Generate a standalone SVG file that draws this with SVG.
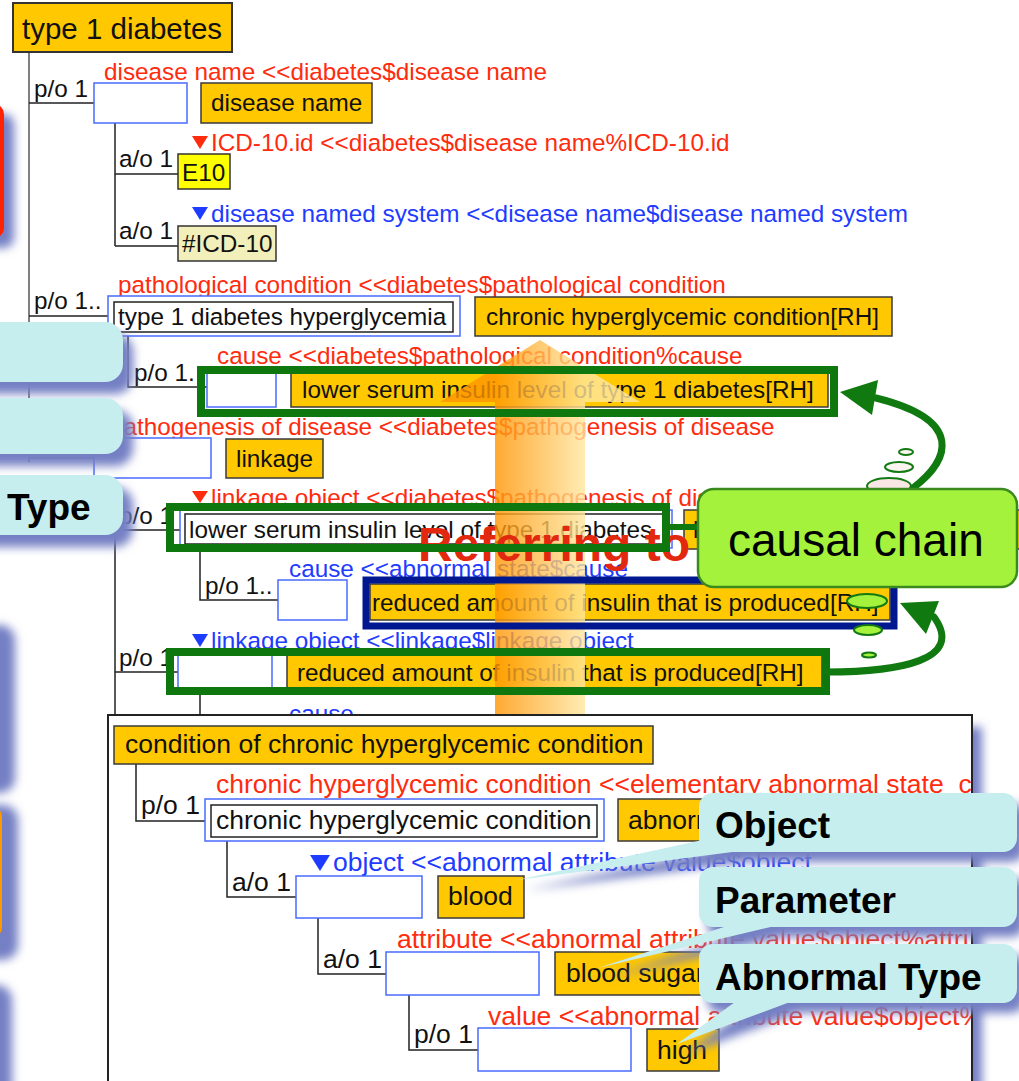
<svg xmlns="http://www.w3.org/2000/svg" width="1019" height="1081" viewBox="0 0 1019 1081">
  <style>
    .t{font-family:"Liberation Sans",Arial,sans-serif;font-size:24.3px;fill:#111}
    .s{font-size:26.5px}
    .red{fill:#FF2B0E}
    .blue{fill:#1E3CFF}
    .ob{fill:#FFC800;stroke:#3a3a3a;stroke-width:1.5}
    .bb{fill:#fff;stroke:#4A6BFF;stroke-width:1.5}
    .ib{fill:#fff;stroke:#222;stroke-width:1.5}
    .ln{stroke:#222;stroke-width:1.5;fill:none}
    .hl{fill:none;stroke:#0E780E;stroke-width:8}
    .cy{fill:#C6EEEE}
    .sh{fill:#7480C4;filter:url(#blur)}
    .big{font-family:"Liberation Sans",Arial,sans-serif;font-weight:bold;font-size:37px;fill:#000}
    .bub{stroke:#137A13;stroke-width:2}
    .garr{fill:none;stroke:#107A10;stroke-width:7;stroke-linecap:round}
  </style>
  <defs>
    <filter id="blur" x="-40%" y="-40%" width="180%" height="180%">
      <feGaussianBlur stdDeviation="5"/>
    </filter>
    <linearGradient id="upGrad" gradientUnits="userSpaceOnUse" x1="495" y1="0" x2="585" y2="0">
      <stop offset="0" stop-color="#FF9400"/>
      <stop offset="1" stop-color="#FFE7A0"/>
    </linearGradient>
    <clipPath id="insetClip">
      <rect x="109" y="716" width="862" height="370"/>
    </clipPath>
  </defs>

  <rect width="1019" height="1081" fill="#fff"/>

  <!-- shapes running off the left edge -->
  <g id="left-edge">
    <rect class="sh" x="-50" y="114" width="64" height="134" rx="10"/>
    <rect x="-60" y="104" width="64" height="134" rx="10" fill="#FF2200"/>
    <rect class="sh" x="-60" y="625" width="75" height="168" rx="15"/>
    <rect class="sh" x="-60" y="805" width="78" height="155" rx="15"/>
    <rect x="-60" y="808" width="62" height="128" rx="8" fill="#FF9900"/>
    <rect class="sh" x="-60" y="985" width="72" height="130" rx="15"/>
  </g>

  <!-- tree connectors -->
  <g id="connectors">
    <line x1="29" y1="52" x2="29" y2="462" stroke="#808080" stroke-width="2"/>
    <path class="ln" d="M29 103H94 M115 123V246 M115 174H178 M115 246H178"/>
    <path class="ln" d="M29 316H108 M128 336V387H207 M29 458H94"/>
    <path class="ln" d="M115 478V715 M115 530H180 M200 548V600H278 M115 672H178 M200 690V715"/>
  </g>

  <g id="title">
    <rect x="13" y="3" width="219" height="49" fill="#FFC800" stroke="#333" stroke-width="2"/>
    <text class="t" x="22" y="39" style="font-size:29.5px">type 1 diabetes</text>
  </g>

  <g id="disease-name">
    <text class="t red" x="104" y="80">disease name &lt;&lt;diabetes$disease name</text>
    <text class="t" x="34" y="97">p/o 1</text>
    <rect class="bb" x="94" y="83" width="93" height="40"/>
    <rect class="ob" x="201" y="83" width="171" height="40"/>
    <text class="t" x="211" y="111">disease name</text>
  </g>

  <g id="icd-id">
    <polygon points="192,136 208,136 200,149" fill="#FF2B0E"/>
    <text class="t red" x="211" y="151">ICD-10.id &lt;&lt;diabetes$disease name%ICD-10.id</text>
    <text class="t" x="119" y="167">a/o 1</text>
    <rect x="178" y="154" width="52" height="35" fill="#FFFF00" stroke="#333" stroke-width="1.5"/>
    <text class="t" x="182" y="181">E10</text>
  </g>

  <g id="icd-system">
    <polygon points="192,207 208,207 200,220" fill="#1E3CFF"/>
    <text class="t blue" x="211" y="222">disease named system &lt;&lt;disease name$disease named system</text>
    <text class="t" x="119" y="239">a/o 1</text>
    <rect x="178" y="226" width="98" height="35" fill="#F3EFBA" stroke="#333" stroke-width="1.5"/>
    <text class="t" x="182" y="252">#ICD-10</text>
  </g>

  <g id="pathological-condition">
    <text class="t red" x="118" y="293">pathological condition &lt;&lt;diabetes$pathological condition</text>
    <text class="t" x="34" y="309">p/o 1..</text>
    <rect class="bb" x="108" y="296" width="352" height="40"/>
    <rect class="ib" x="114" y="302" width="339" height="30"/>
    <text class="t" x="118" y="325">type 1 diabetes hyperglycemia</text>
    <rect class="ob" x="475" y="297" width="417" height="39"/>
    <text class="t" x="486" y="325">chronic hyperglycemic condition[RH]</text>
  </g>

  <g id="cause-1">
    <text class="t red" x="217" y="364">cause &lt;&lt;diabetes$pathological condition%cause</text>
    <text class="t" x="134" y="381">p/o 1.</text>
    <rect class="bb" x="207" y="372" width="69" height="35"/>
    <rect class="ob" x="291" y="373" width="537" height="34"/>
    <text class="t" x="302" y="398">lower serum insulin level of type 1 diabetes[RH]</text>
  </g>

  <g id="pathogenesis">
    <text class="t red" x="110" y="435">pathogenesis of disease &lt;&lt;diabetes$pathogenesis of disease</text>
    <rect class="bb" x="94" y="438" width="117" height="40"/>
    <rect class="ob" x="226" y="439" width="97" height="39"/>
    <text class="t" x="236" y="467">linkage</text>
  </g>

  <g id="linkage-object-1">
    <polygon points="192,491 208,491 200,503" fill="#FF2B0E"/>
    <text class="t red" x="211" y="506">linkage object &lt;&lt;diabetes$pathogenesis of disease</text>
    <text class="t" x="119" y="524">p/o 1</text>
    <rect class="bb" x="180" y="510" width="492" height="38"/>
    <rect class="ib" x="185" y="514" width="478" height="30"/>
    <text class="t" x="189" y="538">lower serum insulin level of type 1 diabetes</text>
    <rect class="ob" x="684" y="510" width="420" height="39"/>
    <text class="t" x="693" y="538">lower serum insulin level</text>
  </g>

  <g id="cause-2">
    <text class="t blue" x="289" y="577">cause &lt;&lt;abnormal state$cause</text>
    <text class="t" x="205" y="594">p/o 1..</text>
    <rect class="bb" x="278" y="580" width="69" height="40"/>
    <rect class="ob" x="370" y="584" width="520" height="36"/>
    <text class="t" x="372" y="611">reduced amount of insulin that is produced[RH]</text>
  </g>

  <g id="linkage-object-2">
    <polygon points="192,634 208,634 200,647" fill="#1E3CFF"/>
    <text class="t blue" x="211" y="649">linkage object &lt;&lt;linkage$linkage object</text>
    <text class="t" x="119" y="666">p/o 1</text>
    <rect class="bb" x="178" y="654" width="94" height="36"/>
    <rect class="ob" x="287" y="655" width="535" height="35"/>
    <text class="t" x="297" y="681">reduced amount of insulin that is produced[RH]</text>
    <text class="t blue" x="289" y="722">cause</text>
  </g>

  <!-- translucent upward arrow -->
  <polygon id="up-arrow" points="495,715 495,402 440,402 540,340 640,402 585,402 585,715" fill="url(#upGrad)" fill-opacity="0.8"/>

  <text id="referring" x="418" y="561" style="font-family:'Liberation Sans',Arial,sans-serif;font-weight:bold;font-size:48px;fill:#E2280E">Referring to</text>

  <!-- highlight frames -->
  <g id="highlights">
    <rect class="hl" x="201" y="370" width="633" height="43"/>
    <rect class="hl" x="170" y="507" width="496" height="41"/>
    <rect x="366" y="580" width="528" height="46" fill="none" stroke="#00188F" stroke-width="7"/>
    <rect class="hl" x="170" y="652" width="656" height="39"/>
    <line x1="668" y1="527" x2="702" y2="527" stroke="#0E780E" stroke-width="6"/>
  </g>

  <!-- inset panel -->
  <g id="inset">
    <rect class="sh" x="120" y="727" width="862" height="380"/>
    <rect x="108" y="715" width="864" height="380" fill="#fff" stroke="#222" stroke-width="2"/>
    <g clip-path="url(#insetClip)">
      <g id="inset-connectors">
        <path class="ln" d="M136 764V821H205 M227 841V897H296 M318 918V974H386 M409 995V1050H478"/>
      </g>
      <g id="condition">
        <rect class="ob" x="114" y="726" width="539" height="38"/>
        <text class="t s" x="125" y="753">condition of chronic hyperglycemic condition</text>
      </g>
      <g id="chronic-state">
        <text class="t s red" x="216" y="793">chronic hyperglycemic condition &lt;&lt;elementary abnormal state_c</text>
        <text class="t s" x="141" y="814">p/o 1</text>
        <rect class="bb" x="205" y="799" width="399" height="42"/>
        <rect class="ib" x="211" y="805" width="386" height="32"/>
        <text class="t s" x="216" y="829">chronic hyperglycemic condition</text>
        <rect class="ob" x="618" y="799" width="300" height="42"/>
        <text class="t s" x="628" y="829">abnormal</text>
      </g>
      <g id="object">
        <polygon points="310,855 330,855 320,871" fill="#1E3CFF"/>
        <text class="t s blue" x="333" y="871">object &lt;&lt;abnormal attribute value$object</text>
        <text class="t s" x="232" y="891">a/o 1</text>
        <rect class="bb" x="296" y="876" width="126" height="42"/>
        <rect class="ob" x="438" y="876" width="86" height="42"/>
        <text class="t s" x="448" y="905">blood</text>
      </g>
      <g id="attribute">
        <text class="t s red" x="397" y="948">attribute &lt;&lt;abnormal attribute value$object%attri</text>
        <text class="t s" x="323" y="968">a/o 1</text>
        <rect class="bb" x="386" y="952" width="153" height="43"/>
        <rect class="ob" x="555" y="952" width="250" height="43"/>
        <text class="t s" x="566" y="982">blood sugar</text>
      </g>
      <g id="value">
        <text class="t s red" x="488" y="1025">value &lt;&lt;abnormal attribute value$object%</text>
        <text class="t s" x="414" y="1043">p/o 1</text>
        <rect class="bb" x="478" y="1028" width="153" height="43"/>
        <rect class="ob" x="647" y="1029" width="72" height="42"/>
        <text class="t s" x="657" y="1059">high</text>
      </g>
    </g>
  </g>

  <!-- causal chain callout with thought bubbles and arrows -->
  <g id="causal-chain">
    <ellipse class="bub" cx="906" cy="452" rx="7" ry="3" fill="#FBF4F0"/>
    <ellipse class="bub" cx="899" cy="467" rx="14" ry="5" fill="#FBF4F0"/>
    <ellipse class="bub" cx="889" cy="486" rx="22" ry="8" fill="#FBE6E6"/>
    <path class="garr" d="M913,488 C950,460 965,420 876,398"/>
    <polygon points="840,392 878,380 872,415" fill="#107A10"/>
    <path class="garr" d="M826,672 C900,672 965,660 934,617"/>
    <polygon points="900,603 939,601 926,634" fill="#107A10"/>
    <rect x="698" y="489" width="319" height="98" rx="16" fill="#A4F23C" stroke="#3A8A1E" stroke-width="2.5"/>
    <text x="728" y="556" style="font-family:'Liberation Sans',Arial,sans-serif;font-size:46px;fill:#000">causal chain</text>
    <ellipse class="bub" cx="867" cy="601" rx="20" ry="7" fill="#A4F23C"/>
    <ellipse class="bub" cx="868" cy="630" rx="14" ry="5" fill="#A4F23C"/>
    <ellipse class="bub" cx="869" cy="655" rx="7" ry="2.5" fill="#A4F23C"/>
  </g>

  <!-- label callouts on the right -->
  <g id="callout-object">
    <g class="sh">
      <rect x="707" y="803" width="318" height="59" rx="14"/>
      <polygon points="720,848 748,862 525,890"/>
    </g>
    <rect class="cy" x="699" y="793" width="318" height="59" rx="14"/>
    <polygon class="cy" points="712,838 740,851 517,880"/>
    <text class="big" x="715" y="838">Object</text>
  </g>
  <g id="callout-parameter">
    <g class="sh">
      <rect x="707" y="877" width="318" height="60" rx="14"/>
      <polygon points="738,936 783,937 606,978"/>
    </g>
    <rect class="cy" x="699" y="867" width="318" height="60" rx="14"/>
    <polygon class="cy" points="730,925 775,926 598,968"/>
    <text class="big" x="715" y="913">Parameter</text>
  </g>
  <g id="callout-abnormal-type">
    <g class="sh">
      <rect x="707" y="954" width="318" height="59" rx="14"/>
      <polygon points="743,1012 798,1013 685,1054"/>
    </g>
    <rect class="cy" x="699" y="944" width="318" height="59" rx="14"/>
    <polygon class="cy" points="735,1002 790,1002 677,1044"/>
    <text class="big" x="715" y="990">Abnormal Type</text>
  </g>

  <!-- label callouts cut by the left edge -->
  <g id="callout-left-1">
    <rect class="sh" x="-30" y="334" width="163" height="60" rx="18"/>
    <rect class="cy" x="-40" y="322" width="163" height="60" rx="18"/>
  </g>
  <g id="callout-left-2">
    <rect class="sh" x="-30" y="410" width="163" height="56" rx="18"/>
    <rect class="cy" x="-40" y="398" width="163" height="56" rx="18"/>
  </g>
  <g id="callout-left-3">
    <rect class="sh" x="-30" y="487" width="163" height="60" rx="18"/>
    <rect class="cy" x="-40" y="475" width="163" height="60" rx="18"/>
    <text class="big" x="7" y="520">Type</text>
  </g>
</svg>
